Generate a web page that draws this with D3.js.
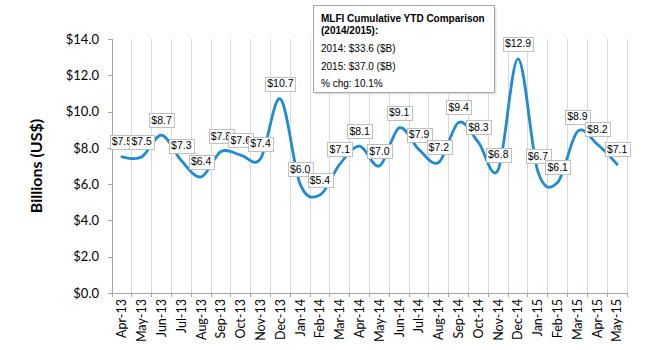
<!DOCTYPE html>
<html>
<head>
<meta charset="utf-8">
<script src="https://cdn.jsdelivr.net/npm/d3@7/dist/d3.min.js"></script>
<style>
  html, body { margin: 0; padding: 0; background: #ffffff; }
  svg { display: block; }
</style>
</head>
<body>
<svg id="chart" width="650" height="350"></svg>
<script>
const months = ["Apr-13","May-13","Jun-13","Jul-13","Aug-13","Sep-13","Oct-13","Nov-13","Dec-13",
  "Jan-14","Feb-14","Mar-14","Apr-14","May-14","Jun-14","Jul-14","Aug-14","Sep-14","Oct-14","Nov-14","Dec-14",
  "Jan-15","Feb-15","Mar-15","Apr-15","May-15"];
const values = [7.5,7.5,8.7,7.3,6.4,7.8,7.6,7.4,10.7,
  6.0,5.4,7.1,8.1,7.0,9.1,7.9,7.2,9.4,8.3,6.8,12.9,
  6.7,6.1,8.9,8.2,7.1];
const yTicks = [0,2,4,6,8,10,12,14];
const yTitle = "Billions (US$)";
const noteTitle = ["MLFI Cumulative YTD Comparison", "(2014/2015):"];
const noteLines = ["2014: $33.6 ($B)", "2015: $37.0 ($B)", "% chg: 10.1%"];

(function () {
const svg = d3.select("#chart");
const pL = 112, pR = 627, pT = 39, pB = 293;

const x = d3.scaleBand().domain(months).range([pL, pR]).padding(0);
const y = d3.scaleLinear().domain([0, 14]).range([pB, pT]);

// vertical gridlines at band boundaries
const bounds = months.map(m => x(m)).concat([pR]);
svg.append("g").selectAll("line").data(bounds.slice(1)).join("line")
  .attr("x1", d => d).attr("x2", d => d)
  .attr("y1", pT).attr("y2", pB)
  .attr("stroke", "#d9d9d9").attr("stroke-width", 1)
  .attr("shape-rendering", "crispEdges");

// y axis
const yAxis = svg.append("g").attr("transform", `translate(${pL},0)`)
  .call(d3.axisLeft(y).tickValues(yTicks).tickSize(4).tickPadding(9).tickFormat(d => "$" + d.toFixed(1)));
yAxis.select(".domain").attr("stroke", "#a6a6a6");
yAxis.selectAll(".tick line").attr("stroke", "#a6a6a6");
yAxis.selectAll("text").attr("font-family", "Lato, 'Open Sans', sans-serif")
  .attr("font-size", "13px").attr("fill", "#000");
yAxis.attr("shape-rendering", "crispEdges");

// x axis
const xAxis = svg.append("g").attr("transform", `translate(0,${pB})`)
  .call(d3.axisBottom(x).tickSize(0).tickPadding(0));
xAxis.select(".domain").attr("stroke", "#a6a6a6").attr("d", `M${pL - 4},0.5H${pR}`);
xAxis.selectAll(".tick text")
  .attr("font-family", "Lato, 'Open Sans', sans-serif").attr("font-size", "12.5px").attr("fill", "#000")
  .attr("transform", "rotate(-90)").attr("text-anchor", "end")
  .attr("x", -6).attr("y", 0).attr("dy", "0.35em");
// boundary tick marks
svg.append("g").selectAll("line").data(bounds).join("line")
  .attr("x1", d => d).attr("x2", d => d)
  .attr("y1", pB).attr("y2", pB + 4)
  .attr("stroke", "#a6a6a6").attr("shape-rendering", "crispEdges");

// y title
svg.append("text")
  .attr("transform", `translate(42,${(pT + pB) / 2}) rotate(-90)`)
  .attr("text-anchor", "middle")
  .attr("font-family", "Lato, 'Open Sans', sans-serif").attr("font-weight", "bold")
  .attr("font-size", "16px").attr("fill", "#000")
  .text(yTitle);

// smoothed line
const cx = (d, i) => x(months[i]) + x.bandwidth() / 2;
const line = d3.line().x(cx).y(d => y(d)).curve(d3.curveCardinal.tension(0));
svg.append("path").datum(values)
  .attr("d", line).attr("fill", "none")
  .attr("stroke", "#1f8bd0").attr("stroke-width", 2.8)
  .attr("stroke-linejoin", "round").attr("stroke-linecap", "round");

// data labels
const lg = svg.append("g");
values.forEach((v, i) => {
  const px = cx(v, i), py = y(v);
  const g = lg.append("g");
  const t = g.append("text")
    .attr("x", px).attr("y", py - 11.5)
    .attr("text-anchor", "middle")
    .attr("font-family", "'Liberation Sans', Arial, sans-serif")
    .attr("font-size", "10.5px").attr("fill", "#000")
    .text("$" + v.toFixed(1));
  const bb = t.node().getBBox();
  g.insert("rect", "text")
    .attr("x", Math.round(px - bb.width / 2 - 2) + 0.5)
    .attr("y", Math.round(py - 22) + 0.5)
    .attr("width", Math.round(bb.width + 4))
    .attr("height", 14)
    .attr("fill", "#fff").attr("stroke", "#bfbfbf").attr("stroke-width", 1);
});

// annotation box
const bx = 313.5, by = 5.5, bw = 181, bh = 87;
svg.append("rect").attr("x", bx + 2).attr("y", by + 2).attr("width", bw).attr("height", bh)
  .attr("fill", "#d0d0d0").attr("opacity", 0.6);
svg.append("rect").attr("x", bx).attr("y", by).attr("width", bw).attr("height", bh)
  .attr("fill", "#fff").attr("stroke", "#a6a6a6").attr("stroke-width", 1);
const nt = svg.append("g").attr("font-family", "'Liberation Sans', Arial, sans-serif")
  .attr("font-size", "10px").attr("fill", "#000");
noteTitle.forEach((s, i) => {
  nt.append("text").attr("x", 321).attr("y", 22 + i * 12).attr("font-weight", "bold").text(s);
});
noteLines.forEach((s, i) => {
  nt.append("text").attr("x", 321).attr("y", 52 + i * 17.5).text(s);
});
})();
</script>
</body>
</html>
